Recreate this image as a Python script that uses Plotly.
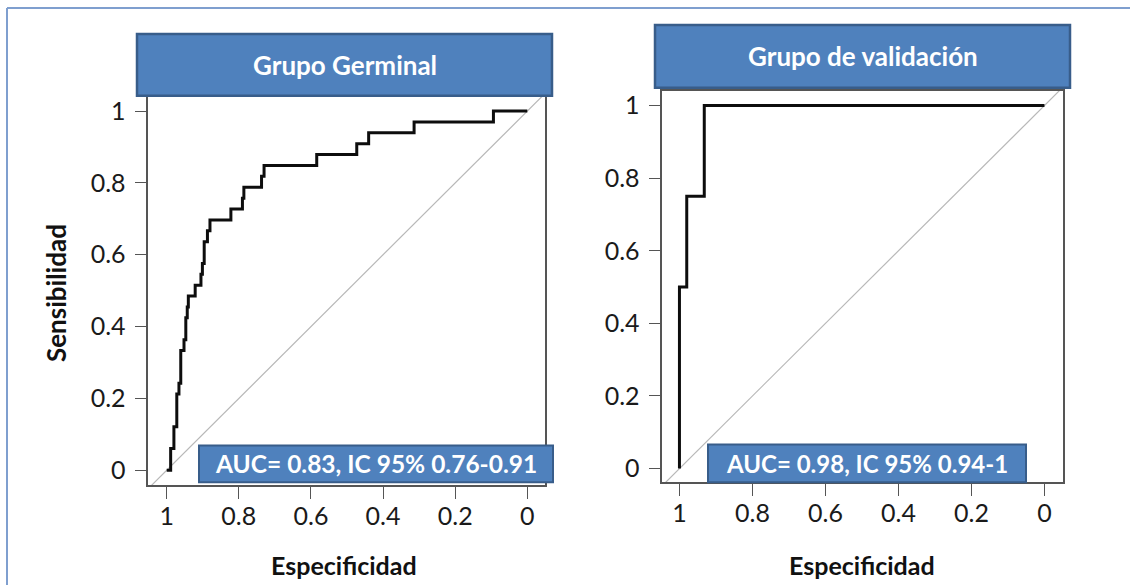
import plotly.graph_objects as go

W, H = 1130, 585

# ---------------- data ----------------
germ_spec = [1.000, 0.989, 0.989, 0.980, 0.980, 0.972, 0.972, 0.966, 0.966, 0.961, 0.961,
             0.952, 0.952, 0.947, 0.947, 0.943, 0.943, 0.940, 0.940, 0.921, 0.921, 0.905,
             0.905, 0.901, 0.901, 0.896, 0.896, 0.887, 0.887, 0.880, 0.880, 0.822, 0.822,
             0.790, 0.790, 0.786, 0.786, 0.737, 0.737, 0.730, 0.730, 0.584, 0.584, 0.473,
             0.473, 0.440, 0.440, 0.314, 0.314, 0.094, 0.094, 0.000]
germ_cases = [0, 0, 2, 2, 4, 4, 7, 7, 8, 8, 11, 11, 12, 12, 14, 14, 15, 15, 16, 16, 17, 17,
              18, 18, 19, 19, 21, 21, 22, 22, 23, 23, 24, 24, 25, 25, 26, 26, 27, 27, 28, 28,
              29, 29, 30, 30, 31, 31, 32, 32, 33, 33]
germ_n_cases = 33
germ_sens = [c / germ_n_cases for c in germ_cases]

val_spec = [1.000, 1.000, 0.980, 0.980, 0.932, 0.932, 0.000]
val_sens = [0.00, 0.50, 0.50, 0.75, 0.75, 1.00, 1.00]

diag_spec = [1.2, -0.2]
diag_sens = [-0.2, 1.2]

tick_vals = [0, 0.2, 0.4, 0.6, 0.8, 1]
tick_text = ["0", "0.2", "0.4", "0.6", "0.8", "1"]

titles = ["Grupo Germinal", "Grupo de validación"]
auc_labels = ["AUC= 0.83, IC 95% 0.76-0.91", "AUC= 0.98, IC 95% 0.94-1"]
x_title = "Especificidad"
y_title = "Sensibilidad"

# ---------------- layout helpers (pixel -> paper) ----------------
def px(x):
    return x / W

def py(y):
    return 1 - y / H

FONT = "Lato"
BLUE = "#4F81BD"
BLUE_EDGE = "#385D8A"

fig = go.Figure()

# left panel
fig.add_trace(go.Scatter(x=diag_spec, y=diag_sens, mode="lines",
                         line=dict(color="#B8B8B8", width=1.2), xaxis="x", yaxis="y",
                         showlegend=False, hoverinfo="skip"))
fig.add_trace(go.Scatter(x=germ_spec, y=germ_sens, mode="lines",
                         line=dict(color="#0D0D0D", width=3), xaxis="x", yaxis="y",
                         showlegend=False))
# right panel
fig.add_trace(go.Scatter(x=diag_spec, y=diag_sens, mode="lines",
                         line=dict(color="#B8B8B8", width=1.2), xaxis="x2", yaxis="y2",
                         showlegend=False, hoverinfo="skip"))
fig.add_trace(go.Scatter(x=val_spec, y=val_sens, mode="lines",
                         line=dict(color="#0D0D0D", width=3), xaxis="x2", yaxis="y2",
                         showlegend=False))

axis_common = dict(
    showgrid=False, zeroline=False, showline=True, mirror=True,
    linecolor="#555555", linewidth=1.5,
    ticks="outside", ticklen=12, tickwidth=1.3, tickcolor="#555555",
    tickvals=tick_vals, ticktext=tick_text,
    tickfont=dict(family=FONT, size=25, color="#1A1A1A"),
)
xaxis_common = dict(axis_common, ticklabelstandoff=-4)
yaxis_common = dict(axis_common, ticklabelstandoff=4)

fig.update_layout(
    width=W, height=H,
    margin=dict(l=0, r=0, t=0, b=0),
    paper_bgcolor="white", plot_bgcolor="white",
    xaxis=dict(domain=[px(148.3), px(545)], range=[1.051, -0.049], anchor="y", **xaxis_common),
    yaxis=dict(domain=[py(485), py(95)], range=[-0.042, 1.040], anchor="x", **yaxis_common),
    xaxis2=dict(domain=[px(662.3), px(1062.7)], range=[1.047, -0.050], anchor="y2", **xaxis_common),
    yaxis2=dict(domain=[py(481.7), py(89.3)], range=[-0.037, 1.040], anchor="x2", **yaxis_common),
)

shapes = []
annotations = []

# outer frame (top and left edges)
shapes.append(dict(type="line", xref="paper", yref="paper", x0=px(7), x1=px(1130),
                   y0=py(6), y1=py(6), line=dict(color="#7F9FCF", width=2)))
shapes.append(dict(type="line", xref="paper", yref="paper", x0=px(7), x1=px(7),
                   y0=py(6), y1=py(585), line=dict(color="#7F9FCF", width=2)))

# title boxes
title_boxes = [(137, 32, 552, 94), (655, 23, 1070, 86)]
for (x0, y0, x1, y1), t in zip(title_boxes, titles):
    shapes.append(dict(type="rect", xref="paper", yref="paper",
                       x0=px(x0), x1=px(x1), y0=py(y1), y1=py(y0),
                       fillcolor=BLUE, line=dict(color=BLUE_EDGE, width=2.5), layer="above"))
    annotations.append(dict(text=f"<b>{t}</b>", xref="paper", yref="paper",
                            x=px((x0 + x1) / 2), y=py((y0 + y1) / 2),
                            xanchor="center", yanchor="middle", showarrow=False,
                            font=dict(family=FONT, size=26, color="white")))

# AUC boxes
auc_boxes = [(199, 445, 553, 482), (708, 444, 1026, 482)]
auc_sizes = [24.5, 24]
for (x0, y0, x1, y1), t, fs in zip(auc_boxes, auc_labels, auc_sizes):
    shapes.append(dict(type="rect", xref="paper", yref="paper",
                       x0=px(x0), x1=px(x1), y0=py(y1), y1=py(y0),
                       fillcolor=BLUE, line=dict(color=BLUE_EDGE, width=2), layer="above"))
    annotations.append(dict(text=f"<b>{t}</b>", xref="paper", yref="paper",
                            x=px((x0 + x1) / 2), y=py((y0 + y1) / 2),
                            xanchor="center", yanchor="middle", showarrow=False,
                            font=dict(family=FONT, size=fs, color="white")))

# axis titles
for cx in (344, 862):
    annotations.append(dict(text=f"<b>{x_title}</b>", xref="paper", yref="paper",
                            x=px(cx), y=py(565), xanchor="center", yanchor="middle",
                            showarrow=False, font=dict(family=FONT, size=25, color="#111111")))
annotations.append(dict(text=f"<b>{y_title}</b>", xref="paper", yref="paper",
                        x=px(56), y=py(292), xanchor="center", yanchor="middle",
                        textangle=-90, showarrow=False,
                        font=dict(family=FONT, size=26, color="#111111")))

fig.update_layout(shapes=shapes, annotations=annotations)

fig.write_html("out.html",
               config={"displayModeBar": False},
               post_script="document.body.style.margin='0';document.body.style.overflow='hidden';")
